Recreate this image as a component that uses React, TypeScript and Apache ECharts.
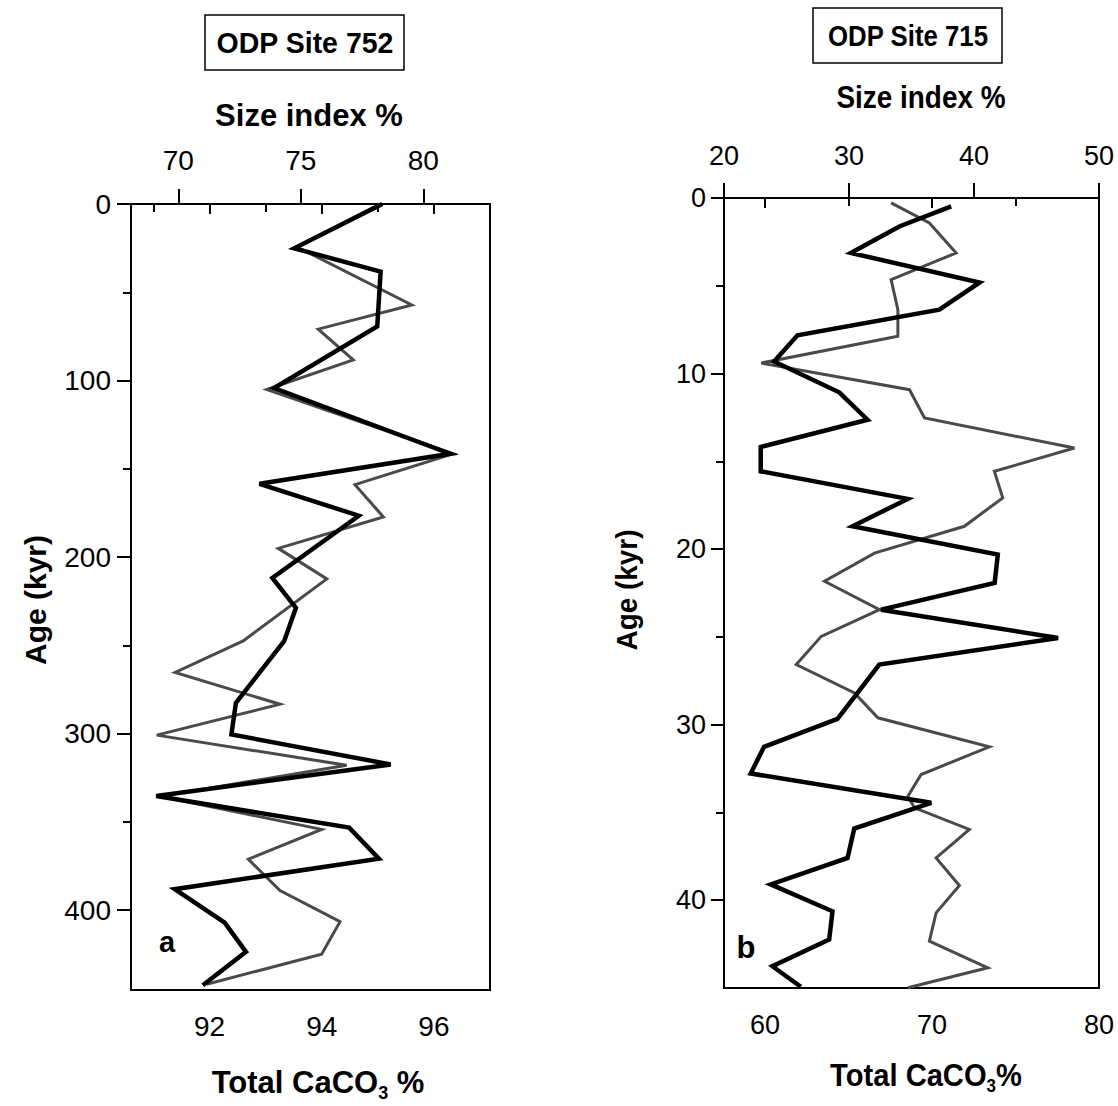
import React, { useEffect, useRef } from 'react';
import * as echarts from 'echarts';

// Panel a (ODP Site 752)
const aCaco3Age = [0, 25.1, 38.3, 69.4, 104.3, 141.5, 158.5, 176.6, 211.8, 228.8, 247.7, 282.6, 300.5, 317.5, 335.4, 353.3, 370.9, 388.2, 407.1, 423.7, 442.6];
const aCaco3 = [95.08, 93.51, 95.05, 94.99, 93.15, 96.29, 92.89, 94.66, 93.12, 93.54, 93.33, 92.47, 92.39, 95.23, 91.05, 94.49, 95.02, 91.38, 92.27, 92.65, 91.88];
const aSizeAge = [0, 24.2, 57.2, 70.9, 88.3, 105.1, 141.5, 159, 177.3, 195.1, 212.4, 247.5, 265.4, 283.4, 300.9, 318, 335.6, 354.3, 371.2, 389, 406.6, 425, 442];
const aSize = [78.23, 74.83, 79.53, 75.71, 77.14, 73.61, 81.22, 77.21, 78.37, 74.08, 76.06, 72.65, 69.87, 74.15, 69.12, 76.87, 69.25, 75.85, 72.86, 74.15, 76.6, 75.85, 71.16];

// Panel b (ODP Site 715)
const bCaco3Age = [0.48, 1.62, 3.13, 4.81, 6.36, 7.82, 9.31, 11.07, 12.63, 14.18, 15.57, 17.14, 18.7, 20.31, 21.92, 23.45, 25.06, 26.58, 29.67, 31.26, 32.78, 34.45, 35.92, 37.59, 39.1, 40.63, 42.24, 43.76, 44.93];
const bCaco3 = [71.15, 68.04, 65.14, 72.85, 70.44, 61.94, 60.54, 64.44, 66.14, 59.74, 59.74, 68.54, 65.24, 73.94, 73.75, 66.94, 77.55, 66.84, 64.34, 59.94, 59.14, 69.95, 65.34, 64.94, 60.34, 64.04, 63.84, 60.44, 62.14];
const bSizeAge = [0.28, 1.42, 3.13, 4.65, 6.36, 7.88, 9.4, 10.92, 12.53, 14.24, 15.57, 17.08, 18.7, 20.23, 21.83, 23.45, 24.97, 26.58, 28.19, 29.61, 31.26, 32.84, 34.08, 34.74, 35.97, 37.59, 39.16, 40.72, 42.33, 43.85, 44.99];
const bSize = [33.37, 36.43, 38.57, 33.37, 33.91, 33.91, 22.98, 34.84, 36.04, 48.03, 41.63, 42.3, 39.23, 32.04, 28.04, 32.44, 27.78, 25.78, 30.44, 32.31, 41.23, 35.77, 34.71, 35.24, 39.63, 36.97, 38.83, 36.97, 36.43, 41.1, 34.71];

// Tick labels
const aBottomMajor = [92, 94, 96];
const aBottomMinor = [91, 93, 95, 97];
const aTopMajor = [70, 75, 80];
const aAgeMajor = [0, 100, 200, 300, 400];
const aAgeMinor = [50, 150, 250, 350];
const bBottomMajor = [60, 70, 80];
const bBottomMinor = [65, 75];
const bTopMajor = [20, 30, 40, 50];
const bAgeMajor = [0, 10, 20, 30, 40];
const bAgeMinor = [5, 15, 25, 35];

const FONT = "'Liberation Sans', Arial, Helvetica, sans-serif";

function pairs(xs: number[], ys: number[]) {
  return xs.map((x, i) => [x, ys[i]]);
}

const line2 = { show: true, lineStyle: { color: '#000', width: 2 } };

function majorAxis(grid: number, pos: string, min: number, max: number, vals: number[], len: number, margin: number, fontSize: number, inverse = false) {
  return {
    gridIndex: grid, type: 'value', position: pos, min, max, inverse,
    axisLine: line2,
    axisTick: { show: true, customValues: vals, length: len, lineStyle: { color: '#000', width: 2 } },
    axisLabel: { show: true, customValues: vals, fontSize, color: '#000', margin, fontFamily: FONT },
    splitLine: { show: false },
  };
}
function minorAxis(grid: number, pos: string, min: number, max: number, vals: number[], len: number, inverse = false) {
  return {
    gridIndex: grid, type: 'value', position: pos, min, max, inverse,
    axisLine: { show: false },
    axisTick: { show: true, customValues: vals, length: len, lineStyle: { color: '#000', width: 2 } },
    axisLabel: { show: false },
    splitLine: { show: false },
  };
}

export default function App() {
  const ref = useRef<HTMLDivElement>(null);
  useEffect(() => {
    if (!ref.current) return;
    const chart = echarts.init(ref.current, null, { renderer: 'svg' });
    const thin = { color: '#4a4a4a', width: 3, join: 'miter', miterLimit: 4 };
    const thick = { color: '#000', width: 4.5, join: 'miter', miterLimit: 4 };
    const option: any = {
      animation: false,
      backgroundColor: '#fff',
      grid: [
        { left: 131, top: 204, width: 359, height: 786, show: true, borderColor: '#000', borderWidth: 2, backgroundColor: 'transparent' },
        { left: 724, top: 198, width: 375, height: 790, show: true, borderColor: '#000', borderWidth: 2, backgroundColor: 'transparent' },
      ],
      xAxis: [
        majorAxis(0, 'bottom', 90.6, 97, aBottomMajor, 10, 22, 28),
        minorAxis(0, 'bottom', 90.6, 97, aBottomMinor, 8),
        majorAxis(0, 'top', 68.07, 82.72, aTopMajor, 15, 30, 28),
        majorAxis(1, 'bottom', 57.54, 80, bBottomMajor, 10, 23, 27),
        minorAxis(1, 'bottom', 57.54, 80, bBottomMinor, 8),
        majorAxis(1, 'top', 20, 50, bTopMajor, 15, 29, 27),
      ],
      yAxis: [
        majorAxis(0, 'left', 0, 445.3, aAgeMajor, 14, 20, 28, true),
        minorAxis(0, 'left', 0, 445.3, aAgeMinor, 8, true),
        majorAxis(1, 'left', 0, 45, bAgeMajor, 13, 18, 27, true),
        minorAxis(1, 'left', 0, 45, bAgeMinor, 8, true),
      ],
      series: [
        { type: 'line', xAxisIndex: 2, yAxisIndex: 0, data: pairs(aSize, aSizeAge), showSymbol: false, symbol: 'none', lineStyle: thin, z: 2 },
        { type: 'line', xAxisIndex: 0, yAxisIndex: 0, data: pairs(aCaco3, aCaco3Age), showSymbol: false, symbol: 'none', lineStyle: thick, z: 3 },
        { type: 'line', xAxisIndex: 5, yAxisIndex: 2, data: pairs(bSize, bSizeAge), showSymbol: false, symbol: 'none', lineStyle: thin, z: 2 },
        { type: 'line', xAxisIndex: 3, yAxisIndex: 2, data: pairs(bCaco3, bCaco3Age), showSymbol: false, symbol: 'none', lineStyle: thick, z: 3 },
      ],
      graphic: [
        { type: 'rect', shape: { x: 205, y: 15, width: 199, height: 55 }, style: { fill: 'none', stroke: '#000', lineWidth: 1.5 } },
        { type: 'text', x: 305, y: 43, scaleX: 0.95, style: { text: 'ODP Site 752', font: `bold 30px ${FONT}`, fill: '#000', align: 'center', verticalAlign: 'middle' } },
        { type: 'rect', shape: { x: 813, y: 8, width: 189, height: 55 }, style: { fill: 'none', stroke: '#000', lineWidth: 1.5 } },
        { type: 'text', x: 908, y: 36, scaleX: 0.86, style: { text: 'ODP Site 715', font: `bold 30px ${FONT}`, fill: '#000', align: 'center', verticalAlign: 'middle' } },
        { type: 'text', x: 309, y: 115, style: { text: 'Size index %', font: `bold 31px ${FONT}`, fill: '#000', align: 'center', verticalAlign: 'middle' } },
        { type: 'text', x: 921, y: 97, scaleX: 0.9, style: { text: 'Size index %', font: `bold 31px ${FONT}`, fill: '#000', align: 'center', verticalAlign: 'middle' } },
        {
          type: 'text', x: 318, y: 1082,
          style: {
            text: '{a|Total CaCO}{s|3}{a| %}', align: 'center', verticalAlign: 'middle',
            rich: {
              a: { font: `bold 31px ${FONT}`, fill: '#000', color: '#000' },
              s: { font: `bold 18px ${FONT}`, fill: '#000', color: '#000', padding: [22, 0, 0, 0] },
            },
          },
        },
        {
          type: 'text', x: 926, y: 1075, scaleX: 0.94,
          style: {
            text: '{a|Total CaCO}{s|3}{a|%}', align: 'center', verticalAlign: 'middle',
            rich: {
              a: { font: `bold 31px ${FONT}`, fill: '#000', color: '#000' },
              s: { font: `bold 18px ${FONT}`, fill: '#000', color: '#000', padding: [22, 0, 0, 0] },
            },
          },
        },
        { type: 'text', x: 35, y: 600, rotation: Math.PI / 2, style: { text: 'Age (kyr)', font: `bold 30px ${FONT}`, fill: '#000', align: 'center', verticalAlign: 'middle' } },
        { type: 'text', x: 627, y: 590, rotation: Math.PI / 2, scaleX: 0.93, style: { text: 'Age (kyr)', font: `bold 30px ${FONT}`, fill: '#000', align: 'center', verticalAlign: 'middle' } },
        { type: 'text', x: 167, y: 942, style: { text: 'a', font: `bold 29px ${FONT}`, fill: '#000', align: 'center', verticalAlign: 'middle' } },
        { type: 'text', x: 746, y: 947, style: { text: 'b', font: `bold 31px ${FONT}`, fill: '#000', align: 'center', verticalAlign: 'middle' } },
      ],
    };
    chart.setOption(option);
    return () => chart.dispose();
  }, []);
  return <div ref={ref} style={{ position: 'absolute', left: 0, top: 0, width: 1118, height: 1106 }} />;
}
